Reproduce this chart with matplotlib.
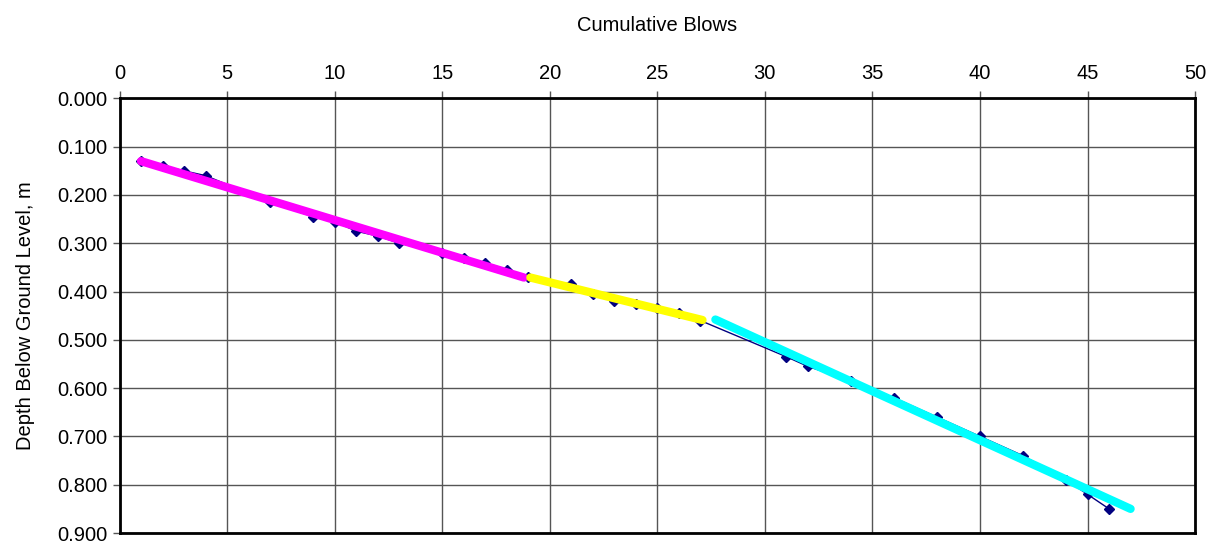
import matplotlib
matplotlib.use("Agg")
import matplotlib.pyplot as plt
from matplotlib.ticker import FormatStrFormatter, MultipleLocator

plt.rcParams['font.family'] = ['Liberation Sans', 'DejaVu Sans']

# Data
blows = [1, 2, 3, 4, 7, 9, 10, 11, 12, 13, 15, 16, 17, 18, 19, 21, 22, 23, 24, 25,
         26, 27, 31, 32, 34, 36, 38, 40, 42, 44, 45, 46]
depth = [0.13, 0.14, 0.15, 0.16, 0.215, 0.245, 0.255, 0.275, 0.285, 0.30, 0.32, 0.33,
         0.34, 0.355, 0.37, 0.385, 0.405, 0.42, 0.425, 0.435, 0.445, 0.46, 0.535,
         0.555, 0.585, 0.62, 0.66, 0.70, 0.74, 0.79, 0.82, 0.85]

# Trend segments (start/end blows and depths)
seg1_x = [1.0, 18.8]
seg1_y = [0.13, 0.371]
seg2_x = [19.1, 27.1]
seg2_y = [0.371, 0.459]
seg3_x = [27.7, 47.0]
seg3_y = [0.458, 0.850]

fig = plt.figure(figsize=(12.22, 5.42), dpi=100)
ax = fig.add_axes([0.0978, 0.0166, 0.978 - 0.0978, 0.8185 - 0.0166])

ax.plot(blows, depth, color='#000080', lw=1.0, marker='D', ms=5, zorder=3)
ax.plot(seg1_x, seg1_y, color='#FF00FF', lw=6, solid_capstyle='round', zorder=4)
ax.plot(seg2_x, seg2_y, color='#FFFF00', lw=6, solid_capstyle='round', zorder=4)
ax.plot(seg3_x, seg3_y, color='#00FFFF', lw=6, solid_capstyle='round', zorder=4)

ax.set_xlim(0, 50)
ax.set_ylim(0.9, 0.0)
ax.xaxis.set_major_locator(MultipleLocator(5))
ax.yaxis.set_major_locator(MultipleLocator(0.1))
ax.yaxis.set_major_formatter(FormatStrFormatter('%.3f'))
ax.xaxis.tick_top()
ax.xaxis.set_label_position('top')
ax.tick_params(axis='both', direction='out', length=5, width=1, color='#555555',
               labelsize=14.5, pad=4)
ax.tick_params(axis='x', pad=6)
ax.grid(True, color='#555555', lw=1)
for s in ax.spines.values():
    s.set_linewidth(2)
    s.set_color('black')

ax.set_xlabel('Cumulative Blows', fontsize=14.5, labelpad=24)
ax.set_ylabel('Depth Below Ground Level, m', fontsize=14.5, labelpad=16)

fig.savefig('out.png', dpi=100)
